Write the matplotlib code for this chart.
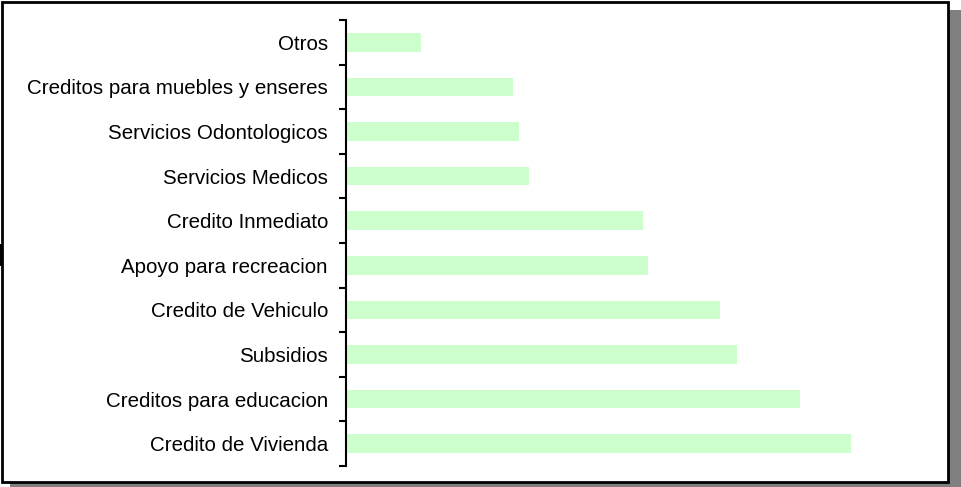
import matplotlib
matplotlib.use("Agg")
import matplotlib.pyplot as plt
from matplotlib.patches import Rectangle

categories = ["Credito de Vivienda", "Creditos para educacion", "Subsidios",
              "Credito de Vehiculo", "Apoyo para recreacion", "Credito Inmediato",
              "Servicios Medicos", "Servicios Odontologicos",
              "Creditos para muebles y enseres", "Otros"]
values = [504, 453, 390, 373, 301, 296, 182, 172, 166, 74]

plt.rcParams['font.family'] = ['Liberation Sans', 'DejaVu Sans']
W, H = 962, 487
fig = plt.figure(figsize=(W / 100, H / 100), dpi=100)

def fx(px):
    return px / W

def fy(py):
    return 1 - py / H

# shadow and frame
fig.patches.append(Rectangle((fx(10), fy(487)), fx(962) - fx(10), fy(10) - fy(487),
                             transform=fig.transFigure, facecolor="#808080",
                             edgecolor="none", zorder=0))
fig.patches.append(Rectangle((fx(2), fy(482)), fx(948) - fx(2), fy(2) - fy(482),
                             transform=fig.transFigure, facecolor="white",
                             edgecolor="black", linewidth=2, zorder=1))
fig.patches.append(Rectangle((fx(0), fy(266)), fx(3), fy(244) - fy(266),
                             transform=fig.transFigure, facecolor="black",
                             edgecolor="none", zorder=2))

ax_left, ax_right, ax_top, ax_bot = 346, 930, 20, 466
ax = fig.add_axes([fx(ax_left), fy(ax_bot), fx(ax_right) - fx(ax_left),
                   fy(ax_top) - fy(ax_bot)])
ax.set_zorder(3)
ax.patch.set_alpha(0)

n = len(categories)
ax.barh(range(n), values, height=0.42, color="#CCFFCC", left=1, zorder=2)
ax.set_xlim(0, ax_right - ax_left)
ax.set_ylim(-0.5, n - 0.5)

for s in ["top", "right", "bottom"]:
    ax.spines[s].set_visible(False)
ax.spines["left"].set_linewidth(1.5)
ax.set_xticks([])
ax.set_yticks(range(n))
ax.set_yticklabels(categories, fontsize=14.8)
ax.set_yticks([i - 0.5 for i in range(n + 1)], minor=True)
ax.tick_params(axis="y", which="major", length=0, pad=13)
ax.tick_params(axis="y", which="minor", length=5, width=1.5, direction="out")

fig.savefig("out.png", dpi=100)
